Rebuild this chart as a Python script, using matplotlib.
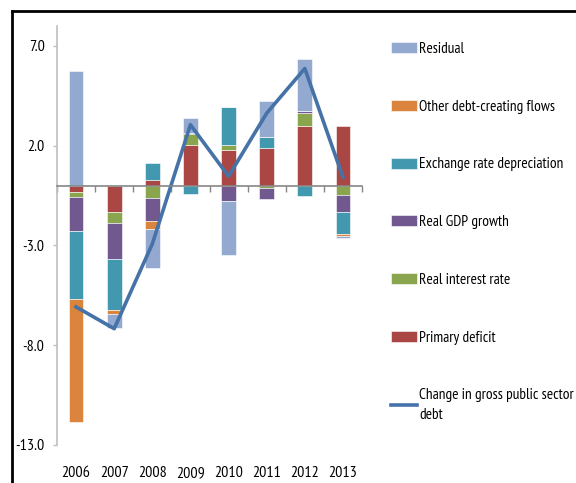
import numpy as np
import matplotlib.pyplot as plt
from matplotlib.lines import Line2D

plt.rcParams['font.family'] = ['PT Sans Narrow', 'DejaVu Sans']

years = ['2006', '2007', '2008', '2009', '2010', '2011', '2012', '2013']

# debt decomposition components (percent of GDP)
primary_deficit = [-0.30, -1.33, 0.28, 2.06, 1.77, 1.87, 3.00, 3.00]
real_interest = [-0.25, -0.55, -0.62, 0.52, 0.25, -0.13, 0.63, -0.47]
real_gdp = [-1.70, -1.78, -1.13, 0.08, -0.78, -0.53, 0.13, -0.83]
exchange_rate = [-3.45, -2.55, 0.85, -0.42, 1.92, 0.55, -0.50, -1.12]
other_flows = [-6.17, -0.20, -0.42, 0.00, 0.00, 0.00, 0.00, -0.10]
residual = [5.72, -0.72, -1.97, 0.72, -2.72, 1.83, 2.57, -0.12]
debt_change = [-6.08, -7.17, -2.92, 3.05, 0.47, 3.63, 5.87, 0.42]

series = [
    ('Primary deficit', primary_deficit, '#AA4643'),
    ('Real interest rate', real_interest, '#89A54E'),
    ('Real GDP growth', real_gdp, '#71588F'),
    ('Exchange rate depreciation', exchange_rate, '#4198AF'),
    ('Other debt-creating flows', other_flows, '#DB843D'),
    ('Residual', residual, '#93A9CF'),
]

fig = plt.figure(figsize=(5.76, 4.83), dpi=100)
ax = fig.add_axes([57 / 576, 1 - 445 / 483, 305 / 576, 419 / 483])

x = np.arange(len(years))
pos_base = np.zeros(len(years))
neg_base = np.zeros(len(years))
handles = []
for name, vals, col in series:
    v = np.array(vals)
    base = np.where(v >= 0, pos_base, neg_base)
    b = ax.bar(x, v, 0.39, bottom=base, color=col, edgecolor='white',
               linewidth=0.4, label=name)
    pos_base += np.where(v >= 0, v, 0)
    neg_base += np.where(v < 0, v, 0)
    handles.append(b)

ln, = ax.plot(x, debt_change, color='#4572A7', lw=2.6,
              label='Change in gross public sector\ndebt')

ax.set_xlim(-0.5, len(years) - 0.5)
ax.set_ylim(-13, 8)
ax.set_yticks([-13, -8, -3, 2, 7])
ax.set_yticklabels(['-13.0', '-8.0', '-3.0', '2.0', '7.0'])
ax.tick_params(axis='y', length=3, width=1, color='#BFBFBF', pad=6,
               labelsize=11.5)

for s in ['top', 'right']:
    ax.spines[s].set_visible(False)
ax.spines['left'].set_color('#BFBFBF')
ax.spines['left'].set_linewidth(1.2)
ax.spines['bottom'].set_position(('data', 0))
ax.spines['bottom'].set_color('#868686')
ax.spines['bottom'].set_linewidth(1.2)
ax.set_xticks(np.arange(len(years) + 1) - 0.5)
ax.set_xticklabels([])
ax.tick_params(axis='x', length=4.3, width=1, color='#868686')

sec = ax.secondary_xaxis('bottom')
sec.spines['bottom'].set_visible(False)
sec.set_xticks(x)
sec.set_xticklabels(years)
sec.tick_params(length=0, pad=15, labelsize=11.5)

leg = fig.legend(handles[::-1] + [ln],
                 [h.get_label() for h in handles[::-1]] + [ln.get_label()],
                 loc='upper left', bbox_to_anchor=(385 / 576, 1 - 36 / 483),
                 frameon=False, fontsize=11, labelspacing=2.86,
                 handlelength=1.7, handleheight=0.72, handletextpad=0.12,
                 borderaxespad=0)
for t in leg.get_texts():
    t.set_linespacing(1.5)

# outer frame (top and left edges)
fig.add_artist(Line2D([12 / 576, 1], [1 - 11 / 483, 1 - 11 / 483],
                      color='black', lw=2))
fig.add_artist(Line2D([12 / 576, 12 / 576], [0, 1 - 11 / 483],
                      color='black', lw=2))

fig.savefig('out.png', dpi=100)
